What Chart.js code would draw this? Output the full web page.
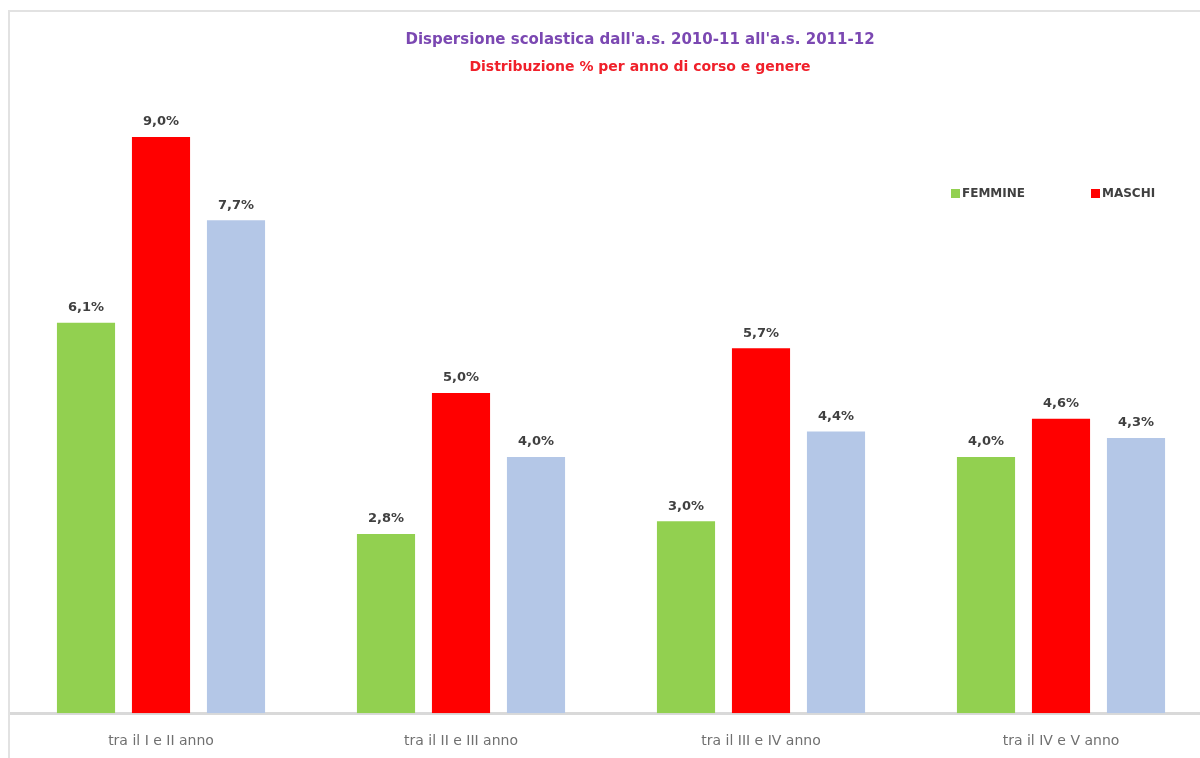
<!DOCTYPE html>
<html>
<head>
<meta charset="utf-8">
<script src="https://cdn.jsdelivr.net/npm/chart.js@4"></script>
<style>
    html, body { margin: 0; padding: 0; background: #fff; overflow: hidden; }
    .frame {
        position: absolute;
        left: 8px;
        top: 10px;
        width: 1210px;
        height: 771px;
        border-left: 2px solid #e2e2e2;
        border-top: 2px solid #e2e2e2;
    }
</style>
</head>
<body>
<div class="frame">
    <canvas id="dispersioneChart" width="1210" height="769"></canvas>
</div>
<script>
// Dati del grafico
const categorie = ['tra il I e II anno', 'tra il II e III anno', 'tra il III e IV anno', 'tra il IV e V anno'];
const femmine = [6.1, 2.8, 3.0, 4.0];
const maschi = [9.0, 5.0, 5.7, 4.6];
const totale = [7.7, 4.0, 4.4, 4.3];

const titolo = "Dispersione scolastica dall'a.s. 2010-11 all'a.s. 2011-12";
const sottotitolo = 'Distribuzione % per anno di corso e genere';

// Titoli, etichette dei valori e legenda
const decorazioni = {
    id: 'decorazioni',
    afterDatasetsDraw(chart) {
        const ctx = chart.ctx;
        ctx.save();
        ctx.textAlign = 'center';
        ctx.textBaseline = 'middle';

        // titoli
        ctx.font = 'bold 15px "DejaVu Sans"';
        ctx.fillStyle = '#7b48b2';
        ctx.fillText(titolo, 630, 28);
        ctx.font = 'bold 14px "DejaVu Sans"';
        ctx.fillStyle = '#f0202a';
        ctx.fillText(sottotitolo, 630, 55);

        // etichette sopra le barre
        ctx.font = 'bold 13px "DejaVu Sans"';
        ctx.fillStyle = '#404040';
        chart.data.datasets.forEach((ds, i) => {
            chart.getDatasetMeta(i).data.forEach((bar, j) => {
                const testo = ds.data[j].toFixed(1).replace('.', ',') + '%';
                ctx.fillText(testo, bar.x, bar.y - 15);
            });
        });

        // legenda (solo femmine e maschi)
        const voci = [
            { x: 941, ds: chart.data.datasets[0] },
            { x: 1081, ds: chart.data.datasets[1] }
        ];
        ctx.textAlign = 'left';
        ctx.font = 'bold 12px "DejaVu Sans"';
        voci.forEach(v => {
            ctx.fillStyle = v.ds.backgroundColor;
            ctx.fillRect(v.x, 177, 9, 9);
            ctx.fillStyle = '#404040';
            ctx.fillText(v.ds.label, v.x + 11, 182);
        });
        ctx.restore();
    }
};

const config = {
    type: 'bar',
    data: {
        labels: categorie,
        datasets: [
            { label: 'FEMMINE', data: femmine, backgroundColor: '#92d050' },
            { label: 'MASCHI', data: maschi, backgroundColor: '#ff0000' },
            { label: 'TOTALE', data: totale, backgroundColor: '#b4c7e7' }
        ]
    },
    options: {
        responsive: false,
        animation: false,
        layout: {
            padding: { top: 61, left: 1, right: 9, bottom: 11 }
        },
        datasets: {
            bar: {
                categoryPercentage: 0.75,
                barPercentage: 0.775
            }
        },
        plugins: {
            legend: { display: false },
            title: { display: false },
            tooltip: { enabled: false }
        },
        scales: {
            y: {
                display: false,
                min: 0,
                max: 10
            },
            x: {
                grid: {
                    display: false,
                    drawTicks: false
                },
                border: {
                    display: true,
                    color: '#d9d9d9',
                    width: 3
                },
                ticks: {
                    color: '#707070',
                    padding: 20,
                    font: { family: '"DejaVu Sans"', size: 14 }
                }
            }
        }
    },
    plugins: [decorazioni]
};

document.addEventListener('DOMContentLoaded', function() {
    const ctx = document.getElementById('dispersioneChart').getContext('2d');
    new Chart(ctx, config);
});
</script>
</body>
</html>
